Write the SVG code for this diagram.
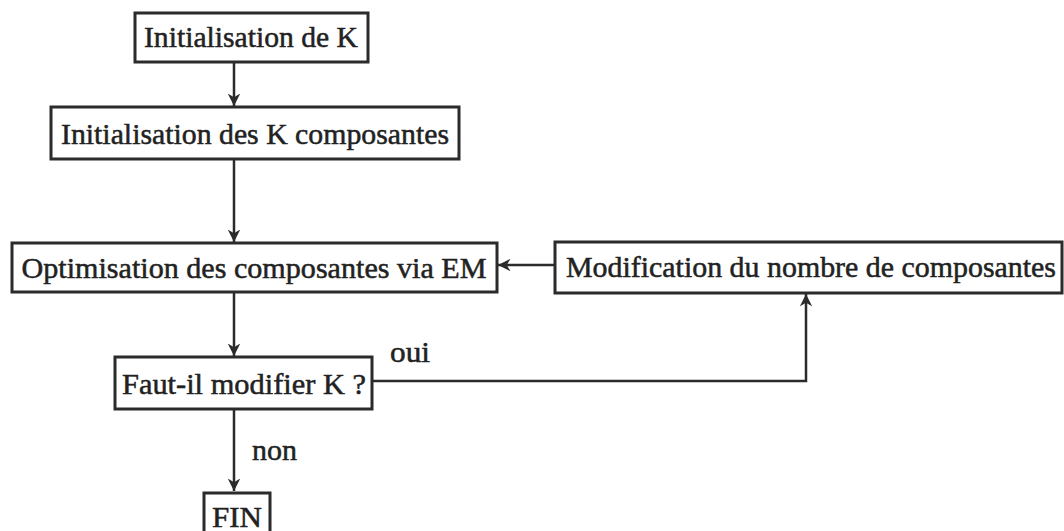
<svg xmlns="http://www.w3.org/2000/svg" width="1064" height="531" viewBox="0 0 1064 531">
<style>
.box{fill:#fff;stroke:#2b2b2b;stroke-width:3}
.t{font-family:'Liberation Serif',serif;font-size:29px;fill:#222;stroke:#222;stroke-width:0.5;text-anchor:middle}
.l{font-family:'Liberation Serif',serif;font-size:29px;fill:#222;stroke:#222;stroke-width:0.5}
.c{fill:none;stroke:#2b2b2b;stroke-width:2.5}
</style>
<defs>
<marker id="ah" viewBox="0 0 10 10" refX="10" refY="5" markerWidth="5" markerHeight="5" orient="auto" markerUnits="strokeWidth">
<path d="M0,0 L10,5 L0,10 L3,5 Z" fill="#2b2b2b"/>
</marker>
</defs>
<rect width="1064" height="531" fill="#fff"/>
<g id="connectors">
<line class="c" x1="234" y1="63" x2="234" y2="106" marker-end="url(#ah)"/>
<line class="c" x1="234" y1="159" x2="234" y2="242" marker-end="url(#ah)"/>
<line class="c" x1="554" y1="265" x2="498" y2="265" marker-end="url(#ah)"/>
<line class="c" x1="234" y1="292" x2="234" y2="356" marker-end="url(#ah)"/>
<polyline class="c" points="373,381 806,381 806,294" marker-end="url(#ah)"/>
<line class="c" x1="234" y1="409" x2="234" y2="491" marker-end="url(#ah)"/>
<text class="l" x="390" y="362" textLength="40" lengthAdjust="spacingAndGlyphs">oui</text>
<text class="l" x="252" y="460" textLength="45" lengthAdjust="spacingAndGlyphs">non</text>
</g>
<g id="n1">
<rect class="box" x="135" y="13" width="233" height="49"/>
<text class="t" x="251" y="47" textLength="214" lengthAdjust="spacingAndGlyphs">Initialisation de K</text>
</g>
<g id="n2">
<rect class="box" x="51" y="107" width="408" height="52"/>
<text class="t" x="255" y="144" textLength="388" lengthAdjust="spacingAndGlyphs">Initialisation des K composantes</text>
</g>
<g id="n3">
<rect class="box" x="12" y="243" width="485" height="49"/>
<text class="t" x="254" y="278" textLength="465" lengthAdjust="spacingAndGlyphs">Optimisation des composantes via EM</text>
</g>
<g id="n4">
<rect class="box" x="555" y="242" width="507" height="51"/>
<text class="t" x="811" y="277" textLength="490" lengthAdjust="spacingAndGlyphs">Modification du nombre de composantes</text>
</g>
<g id="n5">
<rect class="box" x="115" y="357" width="257" height="52"/>
<text class="t" x="244" y="394" textLength="244" lengthAdjust="spacingAndGlyphs">Faut-il modifier K ?</text>
</g>
<g id="n6">
<rect class="box" x="204" y="493" width="66" height="45"/>
<text class="t" x="237" y="527" textLength="50" lengthAdjust="spacingAndGlyphs">FIN</text>
</g>
</svg>
